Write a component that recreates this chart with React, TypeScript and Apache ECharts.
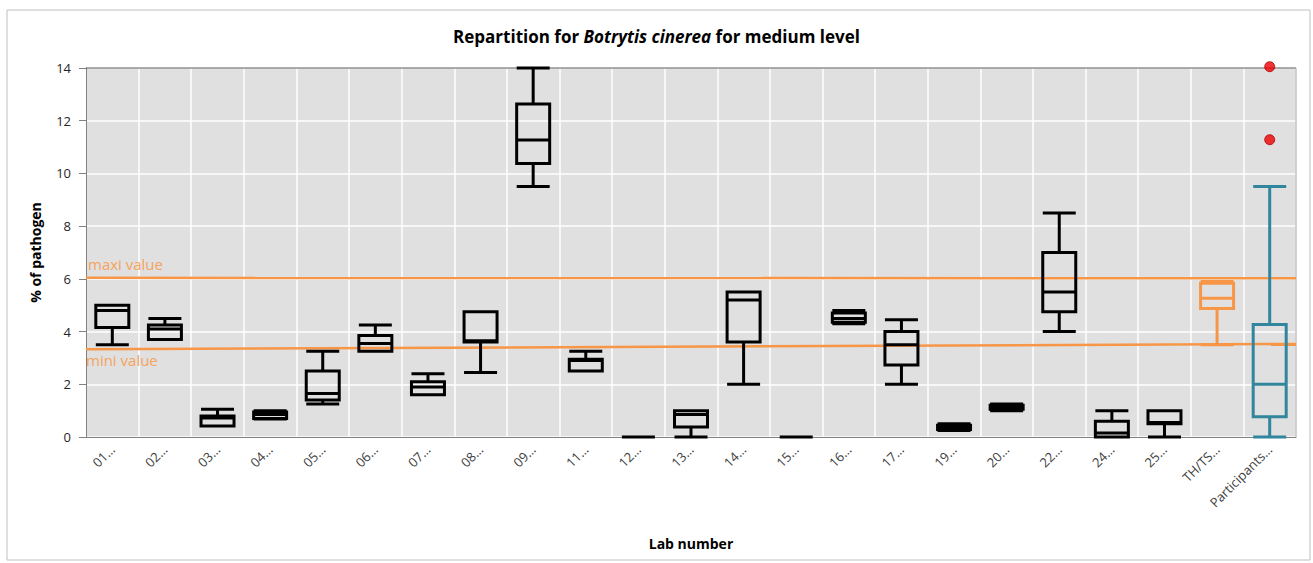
import React, { useEffect, useRef } from "react";
import * as echarts from "echarts";

const categories = ["01", "02", "03", "04", "05", "06", "07", "08", "09", "11", "12", "13", "14", "15", "16", "17", "19", "20", "22", "24", "25", "TH/TS", "Participants"];
const categoryLabels = categories.map((c) => c + "…");

// [min, Q1, median, Q3, max]
const boxValues: number[][] = [
  [3.5, 4.15, 4.8, 5.0, 5.0],
  [3.7, 3.7, 4.1, 4.25, 4.5],
  [0.42, 0.42, 0.72, 0.8, 1.05],
  [0.68, 0.7, 0.85, 0.95, 1.0],
  [1.25, 1.4, 1.65, 2.5, 3.25],
  [3.25, 3.25, 3.55, 3.85, 4.25],
  [1.6, 1.6, 1.9, 2.1, 2.4],
  [2.45, 3.6, 3.65, 4.75, 4.75],
  [9.5, 10.38, 11.27, 12.63, 14.0],
  [2.5, 2.5, 2.9, 2.95, 3.25],
  [0, 0, 0, 0, 0],
  [0, 0.38, 0.85, 1.0, 1.0],
  [2.0, 3.6, 5.2, 5.5, 5.5],
  [0, 0, 0, 0, 0],
  [4.3, 4.35, 4.5, 4.7, 4.8],
  [2.0, 2.73, 3.5, 4.0, 4.45],
  [0.25, 0.28, 0.35, 0.45, 0.5],
  [1.0, 1.05, 1.1, 1.2, 1.25],
  [4.0, 4.75, 5.5, 7.0, 8.5],
  [0, 0, 0.15, 0.6, 1.0],
  [0, 0.5, 0.55, 1.0, 1.0],
  [3.5, 4.88, 5.26, 5.83, 5.9],
  [0, 0.77, 2.0, 4.27, 9.5],
];

const outliers: [string, number][] = [
  ["Participants…", 14.05],
  ["Participants…", 11.28],
];

const maxiLine: [number, number][] = [[0, 6.04], [1, 6.02]];
const miniLine: [number, number][] = [[0, 3.33], [1, 3.53]];

const yTicks = { min: 0, max: 14, interval: 2 };

const BLACK = "#000000";
const ORANGE = "#F79646";
const ORANGE_TEXT = "#F5A35E";
const TEAL = "#31859C";

export default function App() {
  const ref = useRef<HTMLDivElement>(null);

  useEffect(() => {
    if (!ref.current) return;
    const chart = echarts.init(ref.current, null, { renderer: "svg" });
    const font = "'Open Sans', 'Noto Sans', sans-serif";

    const boxData = boxValues.map((v, i) => {
      const cat = categories[i];
      const col = cat === "TH/TS" ? ORANGE : cat === "Participants" ? TEAL : BLACK;
      return {
        value: v,
        itemStyle: { color: "rgba(0,0,0,0)", borderColor: col, borderWidth: 3 },
      };
    });

    chart.setOption({
      animation: false,
      backgroundColor: "#ffffff",
      textStyle: { fontFamily: font },
      title: {
        text: "{b|Repartition for }{i|Botrytis cinerea}{b| for medium level}",
        left: "center",
        top: 23,
        textStyle: {
          rich: {
            b: { fontSize: 17, fontWeight: "bold", color: "#000", fontFamily: font },
            i: { fontSize: 17, fontWeight: "bold", fontStyle: "italic", color: "#000", fontFamily: font },
          },
        },
      },
      grid: { left: 86, right: 17, top: 68, bottom: 126, show: true, backgroundColor: "#E0E0E0", borderWidth: 0 },
      xAxis: [
        {
          type: "category",
          data: categoryLabels,
          boundaryGap: true,
          name: "Lab number",
          nameLocation: "middle",
          nameGap: 99,
          nameTextStyle: { fontSize: 14, fontWeight: "bold", color: "#000", fontFamily: font },
          axisLine: { lineStyle: { color: "#808080", width: 1 } },
          axisTick: { show: false },
          axisLabel: { rotate: 45, interval: 0, fontSize: 13, color: "#404040", margin: 10, fontFamily: font },
          splitLine: { show: true, interval: 0, lineStyle: { color: "#ffffff", width: 1.5 } },
        },
        {
          type: "value",
          min: 0,
          max: 1,
          show: false,
        },
      ],
      yAxis: {
        type: "value",
        min: yTicks.min,
        max: yTicks.max,
        interval: yTicks.interval,
        name: "% of pathogen",
        nameLocation: "middle",
        nameGap: 44,
        nameRotate: 90,
        nameTextStyle: { fontSize: 14, fontWeight: "bold", color: "#000", fontFamily: font },
        axisLine: { show: true, lineStyle: { color: "#808080" } },
        axisTick: { show: true, length: 7, lineStyle: { color: "#808080" } },
        axisLabel: { fontSize: 13, color: "#262626", margin: 15, fontFamily: font },
        splitLine: { show: true, lineStyle: { color: "#ffffff", width: 1.5 } },
      },
      series: [
        {
          type: "line",
          xAxisIndex: 1,
          data: maxiLine,
          symbol: "none",
          lineStyle: { color: ORANGE, width: 2.5 },
          z: 3,
        },
        {
          type: "line",
          xAxisIndex: 1,
          data: miniLine,
          symbol: "none",
          lineStyle: { color: ORANGE, width: 2.5 },
          z: 3,
        },
        {
          type: "boxplot",
          xAxisIndex: 0,
          data: boxData,
          boxWidth: [33, 33],
          z: 4,
        },
        {
          type: "scatter",
          xAxisIndex: 0,
          data: outliers,
          symbolSize: 10,
          clip: false,
          itemStyle: { color: "#EE0000", borderColor: "#B00000", borderWidth: 1 },
          z: 5,
        },
      ],
      graphic: [
        {
          type: "rect",
          shape: { x: 7, y: 10, width: 1303, height: 550 },
          style: { fill: "none", stroke: "#BFBFBF", lineWidth: 1 },
          silent: true,
          z: -10,
        },
        {
          type: "line",
          shape: { x1: 86, y1: 68, x2: 1296, y2: 68 },
          style: { stroke: "#595959", lineWidth: 1 },
          silent: true,
          z: 2,
        },
        {
          type: "line",
          shape: { x1: 1296, y1: 68, x2: 1296, y2: 437 },
          style: { stroke: "#A6A6A6", lineWidth: 1 },
          silent: true,
          z: 2,
        },
        {
          type: "text",
          x: 88,
          y: 256,
          style: { text: "maxi value", fill: ORANGE_TEXT, fontSize: 15, fontFamily: font },
          z: 6,
        },
        {
          type: "text",
          x: 86,
          y: 352,
          style: { text: "mini value", fill: ORANGE_TEXT, fontSize: 15, fontFamily: font },
          z: 6,
        },
      ],
    });

    return () => chart.dispose();
  }, []);

  return (
    <div
      ref={ref}
      style={{ position: "fixed", left: 0, top: 0, width: 1313, height: 563 }}
    />
  );
}
